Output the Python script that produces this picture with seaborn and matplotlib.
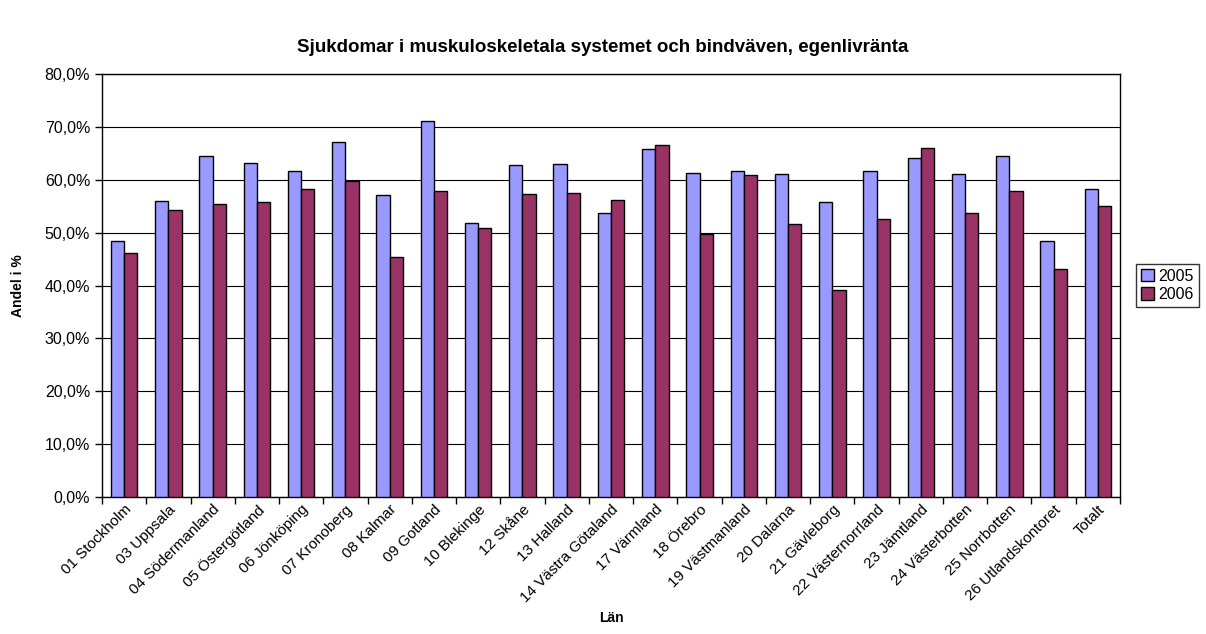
import matplotlib
matplotlib.use("Agg")
import matplotlib.pyplot as plt
import matplotlib.transforms as mtransforms
import seaborn as sns
import pandas as pd
import numpy as np
from matplotlib.ticker import FuncFormatter, FixedLocator

categories = ["01 Stockholm", "03 Uppsala", "04 Södermanland", "05 Östergötland",
              "06 Jönköping", "07 Kronoberg", "08 Kalmar", "09 Gotland", "10 Blekinge",
              "12 Skåne", "13 Halland", "14 Västra Götaland", "17 Värmland", "18 Örebro",
              "19 Västmanland", "20 Dalarna", "21 Gävleborg", "22 Västernorrland",
              "23 Jämtland", "24 Västerbotten", "25 Norrbotten", "26 Utlandskontoret", "Totalt"]
values_2005 = [48.5, 56.0, 64.4, 63.1, 61.6, 67.2, 57.1, 71.1, 51.9, 62.8, 63.0, 53.8,
               65.8, 61.3, 61.6, 61.1, 55.8, 61.6, 64.2, 61.0, 64.5, 48.5, 58.3]
values_2006 = [46.2, 54.3, 55.4, 55.8, 58.3, 59.7, 45.4, 57.8, 50.9, 57.3, 57.4, 56.1,
               66.6, 49.7, 60.9, 51.7, 39.1, 52.5, 66.0, 53.8, 57.9, 43.1, 55.0]
series = ["2005", "2006"]
colors = ["#9999FF", "#993366"]

df = pd.DataFrame({
    "Län": categories * 2,
    "År": [series[0]] * len(categories) + [series[1]] * len(categories),
    "Andel": values_2005 + values_2006,
})

sns.set_theme(style="white")
plt.rcParams["font.family"] = ["Liberation Sans", "DejaVu Sans"]
plt.rcParams["text.color"] = "black"
plt.rcParams["axes.labelcolor"] = "black"
plt.rcParams["xtick.color"] = "black"
plt.rcParams["ytick.color"] = "black"

fig = plt.figure(figsize=(12.06, 6.34), dpi=100)
ax = fig.add_axes([102 / 1206, 1 - 497 / 634, (1120 - 102) / 1206, (497 - 74) / 634])

sns.barplot(data=df, x="Län", y="Andel", hue="År", palette=colors, width=0.6,
            edgecolor="black", linewidth=1.0, ax=ax, zorder=3, saturation=1)

ax.set_ylim(0, 80)
ax.set_xlim(-0.5, len(categories) - 0.5)
ax.set_yticks(np.arange(0, 81, 10))
ax.yaxis.set_major_formatter(FuncFormatter(lambda v, p: f"{v:.1f}%".replace(".", ",")))
ax.grid(axis="y", color="black", linewidth=0.8, zorder=0)
ax.set_axisbelow(True)
for s in ax.spines.values():
    s.set_color("black")
    s.set_linewidth(1.0)

ax.set_xticks(range(len(categories)))
ax.set_xticklabels(categories, rotation=45, ha="right", va="top", rotation_mode="anchor",
                   fontsize=11, color="black")
offset = mtransforms.ScaledTranslation(-12 / 100, -4 / 100, fig.dpi_scale_trans)
for lbl in ax.get_xticklabels():
    lbl.set_transform(lbl.get_transform() + offset)
ax.tick_params(axis="x", which="major", length=0, pad=4)
ax.xaxis.set_minor_locator(FixedLocator(np.arange(-0.5, len(categories), 1.0)))
ax.tick_params(axis="x", which="minor", length=5, width=1, color="black", direction="out", bottom=True)
ax.tick_params(axis="y", length=5, width=1, color="black", labelcolor="black",
               direction="out", left=True, labelsize=11.5)

ax.set_xlabel("Län", fontsize=10, fontweight="bold", labelpad=4, color="black")
ax.set_ylabel("Andel i %", fontsize=10, fontweight="bold", labelpad=14, color="black")
fig.text(0.5, 1 - 47 / 634, "Sjukdomar i muskuloskeletala systemet och bindväven, egenlivränta",
         ha="center", va="center", fontsize=13.5, fontweight="bold", color="black")

leg = ax.legend(loc="center left", bbox_to_anchor=(1.008, 0.5), frameon=True, fancybox=False,
                edgecolor="black", fontsize=11.5, handlelength=0.8, handleheight=0.8,
                handletextpad=0.3, borderpad=0.3, labelspacing=0.2)
for t in leg.get_texts():
    t.set_color("black")

fig.savefig("out.png", dpi=100)
